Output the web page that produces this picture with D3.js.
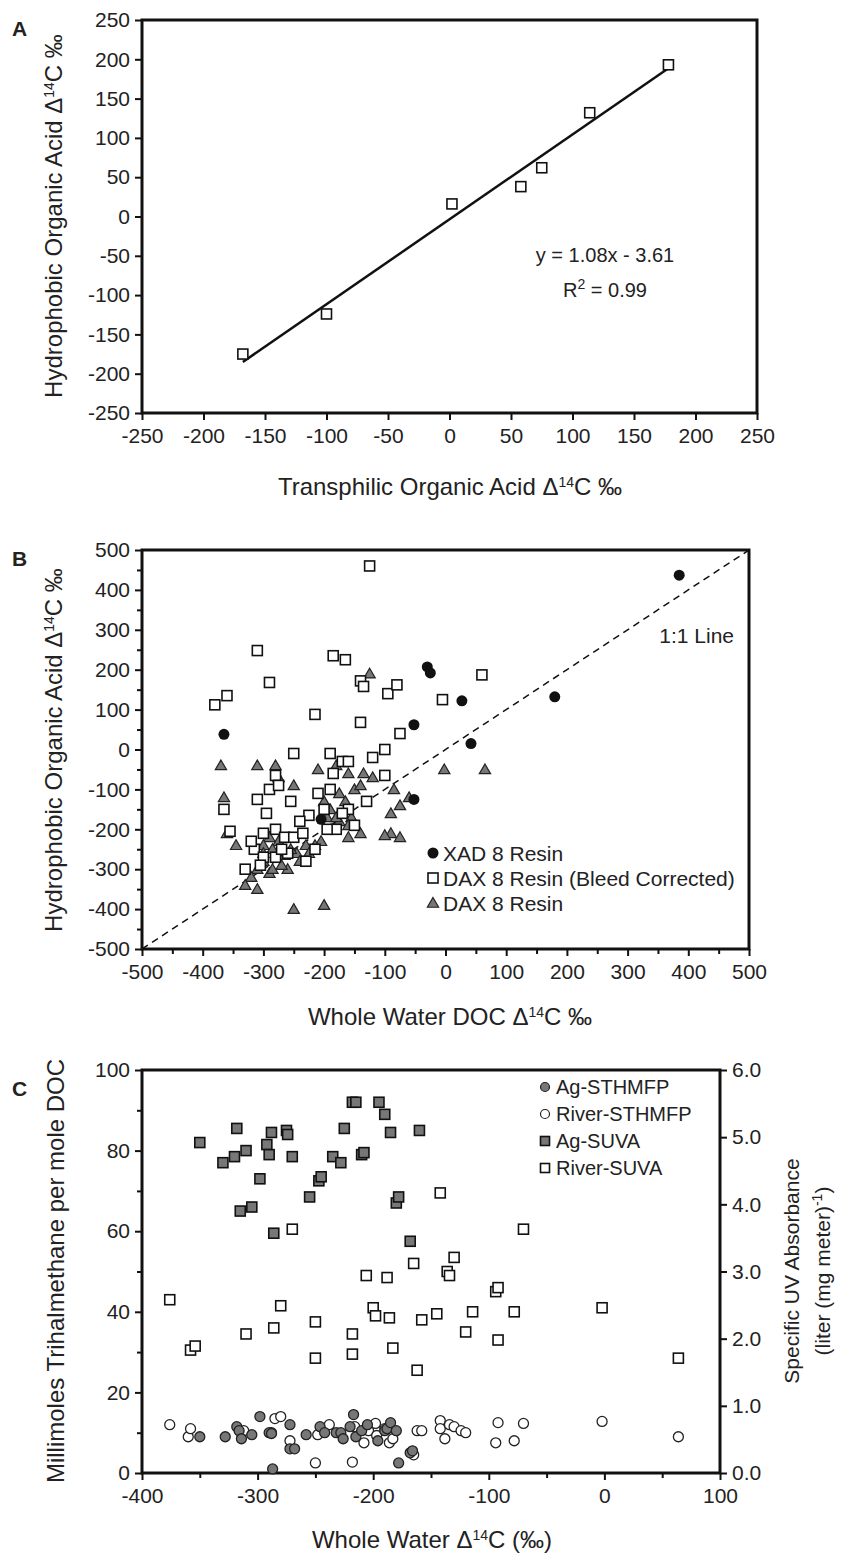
<!DOCTYPE html>
<html><head><meta charset="utf-8">
<script src="https://cdn.jsdelivr.net/npm/d3@7"></script>
<style>body{margin:0;background:#fff}text{font-family:"Liberation Sans",Arial,sans-serif;fill:#222}</style>
</head><body>
<script>
'use strict';
// Panel A: transphilic vs hydrophobic
var aX = [-168,-100,2,58,75,114,178];
var aY = [-175,-124,16,38,62,132,193];
var aTicks = [-250,-200,-150,-100,-50,0,50,100,150,200,250];
// Panel B
var xadX = [385,180,27,-30,-25,-52,42,-52,-365,-205];
var xadY = [437,132,122,207,192,62,15,-125,38,-175];
var daxcX = [-125,-310,-290,-185,-165,-140,-135,-95,-80,-5,60,-380,-360,-215,-140,-75,-120,-100,-250,-190,-185,-280,-170,-365,-355,-310,-290,-275,-295,-255,-210,-190,-160,-130,-100,-200,-225,-240,-280,-265,-250,-300,-315,-320,-330,-300,-280,-260,-230,-215,-180,-170,-150,-235,-195,-305,-270,-160];
var daxcY = [460,248,168,235,225,172,158,140,162,125,187,112,135,88,68,40,-20,0,-10,-10,-60,-65,-30,-150,-205,-125,-100,-90,-160,-130,-110,-100,-150,-130,-65,-150,-165,-180,-200,-220,-220,-210,-250,-230,-300,-270,-270,-260,-280,-250,-200,-160,-190,-210,-200,-290,-250,-30];
var daxX = [-125,-370,-365,-360,-345,-310,-280,-275,-250,-210,-180,-160,-150,-140,-120,-75,-60,-2,65,-175,-190,-200,-165,-85,-90,-75,-100,-160,-140,-175,-155,-195,-205,-215,-230,-245,-255,-265,-275,-285,-290,-300,-300,-310,-320,-310,-330,-290,-250,-200,-260,-240,-225,-270,-285,-300,-180,-160,-135,-90];
var daxY = [190,-40,-120,-210,-240,-40,-40,-70,-90,-50,-40,-60,-100,-90,-70,-140,-120,-50,-50,-110,-150,-130,-130,-100,-210,-220,-215,-220,-210,-180,-170,-170,-230,-240,-240,-260,-250,-265,-230,-250,-220,-240,-260,-300,-320,-350,-340,-310,-400,-390,-300,-280,-260,-290,-300,-280,-170,-190,-60,-160];
var bTicks = [-500,-400,-300,-200,-100,0,100,200,300,400,500];
// Panel C
var agSuvaX = [-350,-330,-320,-318,-315,-310,-305,-298,-292,-290,-288,-286,-275,-274,-270,-255,-247,-245,-235,-228,-225,-218,-215,-210,-208,-195,-190,-185,-180,-178,-168,-160];
var agSuva = [4.92,4.62,4.71,5.13,3.90,4.80,3.96,4.38,4.89,4.74,5.07,3.57,5.10,5.04,4.71,4.11,4.35,4.41,4.71,4.62,5.13,5.52,5.52,4.74,4.77,5.52,5.34,5.07,4.02,4.11,3.45,5.10];
var rvSuvaX = [-376,-358,-354,-310,-286,-280,-270,-250,-250,-218,-218,-206,-200,-198,-188,-186,-183,-165,-162,-158,-145,-142,-136,-134,-130,-120,-114,-94,-92,-92,-78,-70,-2,64];
var rvSuva = [2.58,1.83,1.89,2.07,2.16,2.49,3.63,2.25,1.71,2.07,1.77,2.94,2.46,2.34,2.91,2.31,1.86,3.12,1.53,2.28,2.37,4.17,3.00,2.94,3.21,2.10,2.40,2.70,2.76,1.98,2.40,3.63,2.46,1.71];
var agThmX = [-350,-328,-318,-316,-314,-305,-298,-290,-288,-287,-272,-272,-268,-258,-246,-242,-232,-228,-226,-220,-217,-215,-210,-205,-196,-190,-188,-185,-180,-178,-168,-166];
var agThm = [9,9,11.5,10.5,8.5,9.5,14,10,9.8,1,12,6,6,9.5,11.5,10,10,10,8.5,11.5,14.5,9,10.5,12,8,10.5,11,12.5,10.5,2.5,5,5.5];
var rvThmX = [-376,-360,-358,-312,-288,-285,-280,-272,-250,-248,-238,-218,-216,-208,-204,-198,-197,-190,-188,-186,-183,-165,-162,-158,-142,-142,-138,-134,-130,-124,-120,-94,-92,-78,-70,-2,64];
var rvThm = [12,9,11,10.5,10,13.5,14,8,2.5,9.5,12,2.7,11.5,7.5,10.5,12.3,9.3,11,11,7.5,8.5,4.5,10.5,10.5,13,11,8.5,12,11.5,10.5,10,7.5,12.5,8,12.3,12.8,9];

var svg = d3.select('body').append('svg').attr('width',848).attr('height',1561);
var TFS = 21, TIT = 24;
var fmt = function(d){ return String(d); };

function box(g, x0, y0, x1, y1){
  g.append('rect').attr('x',x0).attr('y',y0).attr('width',x1-x0).attr('height',y1-y0)
   .attr('fill','none').attr('stroke','#111').attr('stroke-width',3);
}
function styleAxis(a){
  a.select('.domain').remove();
  a.selectAll('line').attr('stroke','#111').attr('stroke-width',2);
  a.selectAll('text').style('font-size',TFS+'px');
}
function minor(g, axisFn, scale, vals, pos){
  var a = g.append('g').attr('transform',pos).call(axisFn(scale).tickValues(vals).tickSize(5).tickFormat(''));
  a.select('.domain').remove();
  a.selectAll('line').attr('stroke','#111').attr('stroke-width',2);
}
function square(g, cx, cy, s, fill){
  g.append('rect').attr('x',cx-s/2).attr('y',cy-s/2).attr('width',s).attr('height',s)
   .attr('fill',fill).attr('stroke','#111').attr('stroke-width',1.6);
}
function tri(g, cx, cy){
  g.append('path').attr('d',d3.symbol().type(d3.symbolTriangle).size(55)())
   .attr('transform','translate('+cx+','+(cy+1)+')').attr('fill','#777').attr('stroke','#222').attr('stroke-width',1.2);
}
function addParts(t, parts){
  parts.forEach(function(p){
    var s = t.append('tspan').text(p[0]);
    if(p[1]) s.attr('baseline-shift','super').style('font-size','14px');
  });
}
function ytitle(x, y, parts, fs){
  var t = svg.append('text').attr('transform','translate('+x+','+y+') rotate(-90)')
   .attr('text-anchor','middle').style('font-size',(fs||TIT)+'px');
  addParts(t, parts);
}
function xtitle(x, y, parts){
  var t = svg.append('text').attr('x',x).attr('y',y).attr('text-anchor','middle').style('font-size',TIT+'px');
  addParts(t, parts);
}
function letter(x,y,l){ svg.append('text').attr('x',x).attr('y',y).text(l).style('font-size','21px').style('font-weight','bold'); }

// ---------- Panel A ----------
var ax = d3.scaleLinear().domain([-250,250]).range([142,757]);
var ay = d3.scaleLinear().domain([-250,250]).range([413,20]);
var gA = svg.append('g');
styleAxis(gA.append('g').attr('transform','translate(0,413)').call(d3.axisBottom(ax).tickValues(aTicks).tickFormat(fmt).tickSize(7).tickPadding(8)));
styleAxis(gA.append('g').attr('transform','translate(142,0)').call(d3.axisLeft(ay).tickValues(aTicks).tickFormat(fmt).tickSize(7).tickPadding(5)));
box(gA,142,20,757,413);
gA.append('line').attr('x1',ax(-168)).attr('y1',ay(1.08*-168-3.61)).attr('x2',ax(178)).attr('y2',ay(1.08*178-3.61))
  .attr('stroke','#111').attr('stroke-width',2.5);
aX.forEach(function(d,i){ square(gA, ax(d), ay(aY[i]), 10, '#fff'); });
gA.append('text').attr('x',605).attr('y',262).attr('text-anchor','middle').style('font-size','20px').text('y = 1.08x - 3.61');
var r2 = gA.append('text').attr('x',605).attr('y',297).attr('text-anchor','middle').style('font-size','20px');
addParts(r2, [['R'],['2',1],[' = 0.99']]);
letter(12,36,'A');
ytitle(62,216,[['Hydrophobic Organic Acid Δ'],['14',1],['C ‰']]);
xtitle(450,495,[['Transphilic Organic Acid Δ'],['14',1],['C ‰']]);

// ---------- Panel B ----------
var bx = d3.scaleLinear().domain([-500,500]).range([142,749]);
var by = d3.scaleLinear().domain([-500,500]).range([949,550]);
var gB = svg.append('g');
var bMinor = d3.range(-450,500,100);
minor(gB, d3.axisBottom, bx, bMinor, 'translate(0,949)');
minor(gB, d3.axisLeft, by, bMinor, 'translate(142,0)');
styleAxis(gB.append('g').attr('transform','translate(0,949)').call(d3.axisBottom(bx).tickValues(bTicks).tickFormat(fmt).tickSize(7).tickPadding(8)));
styleAxis(gB.append('g').attr('transform','translate(142,0)').call(d3.axisLeft(by).tickValues(bTicks).tickFormat(fmt).tickSize(7).tickPadding(5)));
box(gB,142,550,749,949);
gB.append('line').attr('x1',bx(-500)).attr('y1',by(-500)).attr('x2',bx(500)).attr('y2',by(500))
  .attr('stroke','#111').attr('stroke-width',1.5).attr('stroke-dasharray','7,5');
daxX.forEach(function(d,i){ tri(gB, bx(d), by(daxY[i])); });
daxcX.forEach(function(d,i){ square(gB, bx(d), by(daxcY[i]), 10, '#fff'); });
xadX.forEach(function(d,i){ gB.append('circle').attr('cx',bx(d)).attr('cy',by(xadY[i])).attr('r',5.5).attr('fill','#111'); });
gB.append('text').attr('x',734).attr('y',643).attr('text-anchor','end').style('font-size','21px').text('1:1 Line');
var legB = [['XAD 8 Resin','c'],['DAX 8 Resin (Bleed Corrected)','s'],['DAX 8 Resin','t']];
legB.forEach(function(l,i){
  var y = 853+i*25;
  if(l[1]==='c') gB.append('circle').attr('cx',433).attr('cy',y).attr('r',5.5).attr('fill','#111');
  else if(l[1]==='s') square(gB,433,y,10,'#fff'); else tri(gB,433,y);
  gB.append('text').attr('x',443).attr('y',y+8).style('font-size','21px').text(l[0]);
});
letter(12,566,'B');
ytitle(62,750,[['Hydrophobic Organic Acid Δ'],['14',1],['C ‰']]);
xtitle(450,1025,[['Whole Water DOC Δ'],['14',1],['C ‰']]);

// ---------- Panel C ----------
var cx = d3.scaleLinear().domain([-400,100]).range([142,720]);
var cy = d3.scaleLinear().domain([0,100]).range([1473,1070]);
var cy2 = d3.scaleLinear().domain([0,6]).range([1473,1070]);
var gC = svg.append('g');
minor(gC, d3.axisBottom, cx, d3.range(-350,100,100), 'translate(0,1473)');
minor(gC, d3.axisLeft, cy, d3.range(10,100,20), 'translate(142,0)');
styleAxis(gC.append('g').attr('transform','translate(0,1473)').call(d3.axisBottom(cx).tickValues([-400,-300,-200,-100,0,100]).tickFormat(fmt).tickSize(7).tickPadding(8)));
styleAxis(gC.append('g').attr('transform','translate(142,0)').call(d3.axisLeft(cy).tickValues([0,20,40,60,80,100]).tickSize(7).tickPadding(5)));
styleAxis(gC.append('g').attr('transform','translate(720,0)').call(d3.axisRight(cy2).tickValues([0,1,2,3,4,5,6]).tickFormat(d3.format('.1f')).tickSize(7).tickPadding(5)));
box(gC,142,1070,720,1473);
rvSuvaX.forEach(function(d,i){ square(gC, cx(d), cy2(rvSuva[i]), 10, '#fff'); });
agSuvaX.forEach(function(d,i){ square(gC, cx(d), cy2(agSuva[i]), 10, '#777'); });
rvThmX.forEach(function(d,i){ gC.append('circle').attr('cx',cx(d)).attr('cy',cy(rvThm[i])).attr('r',5).attr('fill','#fff').attr('stroke','#222').attr('stroke-width',1.3); });
agThmX.forEach(function(d,i){ gC.append('circle').attr('cx',cx(d)).attr('cy',cy(agThm[i])).attr('r',5).attr('fill','#777').attr('stroke','#222').attr('stroke-width',1.3); });
var legC = [['Ag-STHMFP','#777','c'],['River-STHMFP','#fff','c'],['Ag-SUVA','#777','s'],['River-SUVA','#fff','s']];
legC.forEach(function(l,i){
  var y = 1087+i*27;
  if(l[2]==='c') gC.append('circle').attr('cx',545).attr('cy',y).attr('r',4.5).attr('fill',l[1]).attr('stroke','#222').attr('stroke-width',1.2);
  else square(gC,545,y,9,l[1]);
  gC.append('text').attr('x',556).attr('y',y+7).style('font-size','20px').text(l[0]);
});
letter(12,1096,'C');
ytitle(64,1271,[['Millimoles Trihalmethane per mole DOC']]);
ytitle(799,1271,[['Specific UV Absorbance']],21);
ytitle(830,1271,[['(liter (mg meter)'],['-1',1],[')']],21);
xtitle(432,1548,[['Whole Water Δ'],['14',1],['C (‰)']]);
</script>
</body></html>
